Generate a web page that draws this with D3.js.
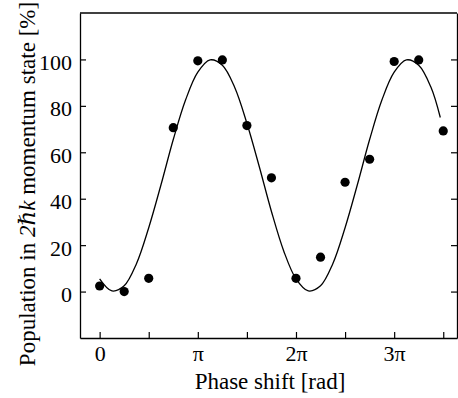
<!DOCTYPE html>
<html>
<head>
<meta charset="utf-8">
<script src="https://cdn.jsdelivr.net/npm/d3@7"></script>
<style>
  body { margin: 0; background: #fff; }
  svg text { font-family: "Liberation Serif", "DejaVu Serif", serif; fill: #000; }
</style>
</head>
<body>
<div id="chart"></div>
<script>
// Measured points: phase shift in units of pi, population in %
const phase = [0, 0.25, 0.5, 0.75, 1, 1.25, 1.5, 1.75, 2, 2.25, 2.5, 2.75, 3, 3.25, 3.5];
const population = [2.4, 0, 5.7, 70.6, 99.4, 99.8, 71.5, 49, 5.7, 14.8, 47.1, 57, 99.1, 99.8, 69.2];

// Fitted curve (phase in units of pi)
const fitPhase = [0, 0.125, 0.25, 0.375, 0.5, 0.625, 0.75, 0.875, 1, 1.125, 1.25, 1.375, 1.5, 1.625, 1.75, 1.875,
  2, 2.125, 2.25, 2.375, 2.5, 2.625, 2.75, 2.875, 3, 3.125, 3.25, 3.375, 3.47];
const fitPopulation = [5.5, 0.3, 2.5, 12, 27.5, 46, 65.5, 82.5, 94.5, 99.8, 97.5, 88, 72.5, 54, 34.5, 17.5,
  5.5, 0.3, 2.5, 12, 27.5, 46, 65.5, 82.5, 94.5, 99.8, 97.5, 88, 75];

// Axis ticks
const xTicks = [0, 0.5, 1, 1.5, 2, 2.5, 3, 3.5];
const xTickLabels = { 0: "0", 1: "\u03c0", 2: "2\u03c0", 3: "3\u03c0" };
const yTicks = [0, 20, 40, 60, 80, 100];

const W = 458, H = 398;
const plot = { left: 80, right: 457, top: 13, bottom: 338 };

const svg = d3.select("#chart")
    .append("svg")
    .attr("width", W)
    .attr("height", H);

const x = d3.scaleLinear().domain([-0.2, 3.64]).range([plot.left, plot.right]);
const y = d3.scaleLinear().domain([-20, 120]).range([plot.bottom, plot.top]);

// Bottom axis
svg.append("g")
    .attr("transform", `translate(0,${plot.bottom})`)
    .call(d3.axisBottom(x)
        .tickValues(xTicks)
        .tickSize(-6)
        .tickPadding(7)
        .tickSizeOuter(0)
        .tickFormat(d => xTickLabels[d] || ""));

// Left axis
const yAxis = svg.append("g")
    .attr("transform", `translate(${plot.left},0)`)
    .call(d3.axisLeft(y)
        .tickValues(yTicks)
        .tickSize(-6)
        .tickPadding(8)
        .tickSizeOuter(0));
yAxis.selectAll("text").attr("dy", "0.45em");

// Right axis (ticks only)
svg.append("g")
    .attr("transform", `translate(${plot.right},0)`)
    .call(d3.axisRight(y)
        .tickValues(yTicks)
        .tickSize(-6)
        .tickSizeOuter(0)
        .tickFormat(""));

// Top frame line
svg.append("line")
    .attr("x1", plot.left).attr("x2", plot.right)
    .attr("y1", plot.top).attr("y2", plot.top)
    .attr("stroke", "#000")
    .attr("stroke-width", 1.3);

svg.selectAll(".domain").attr("stroke", "#000").attr("stroke-width", 1.3);
svg.selectAll(".tick line").attr("stroke", "#000").attr("stroke-width", 1.2);
svg.selectAll(".tick text").style("font-size", "22px");

// Fitted curve
const fit = fitPhase.map((p, i) => [p, fitPopulation[i]]);
svg.append("path")
    .datum(fit)
    .attr("fill", "none")
    .attr("stroke", "#000")
    .attr("stroke-width", 1.3)
    .attr("d", d3.line()
        .x(d => x(d[0]))
        .y(d => y(d[1]))
        .curve(d3.curveCatmullRom));

// Data points
svg.selectAll("circle.pt")
    .data(phase.map((p, i) => ({ p: p, v: population[i] })))
    .enter()
    .append("circle")
    .attr("class", "pt")
    .attr("cx", d => x(d.p))
    .attr("cy", d => y(d.v))
    .attr("r", 4.6)
    .attr("fill", "#000");

// Axis titles
svg.append("text")
    .attr("x", 270)
    .attr("y", 389)
    .attr("text-anchor", "middle")
    .style("font-size", "23px")
    .text("Phase shift [rad]");

const yTitle = svg.append("text")
    .attr("transform", "translate(35,184) rotate(-90)")
    .attr("text-anchor", "middle")
    .style("font-size", "23px");
yTitle.append("tspan").text("Population in ");
yTitle.append("tspan").style("font-style", "italic").text("2\u210fk");
yTitle.append("tspan").text(" momentum state [%]");
</script>
</body>
</html>
